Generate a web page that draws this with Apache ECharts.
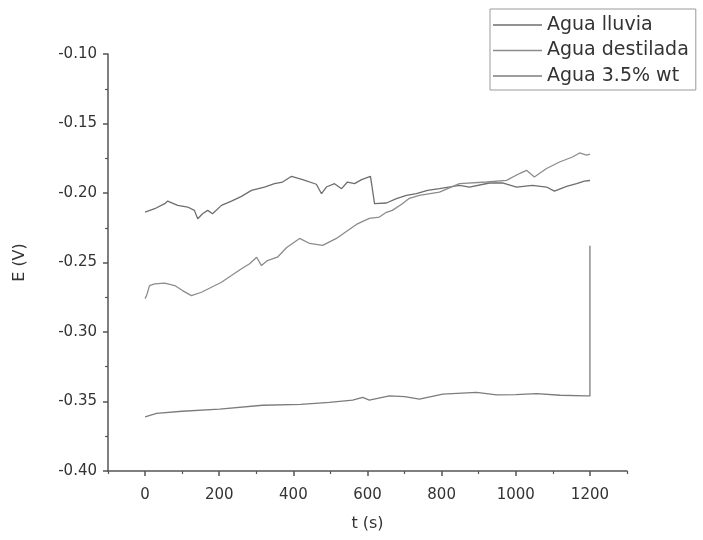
<!DOCTYPE html>
<html>
<head>
<meta charset="utf-8">
<script src="https://cdn.jsdelivr.net/npm/echarts@6/dist/echarts.min.js"></script>
<style>
  html, body { margin: 0; padding: 0; background: #fff; }
  #chart { width: 703px; height: 540px; }
</style>
</head>
<body>
<div id="chart"></div>
<script>
// Potential vs time for three water types
const seriesNames = ['Agua lluvia', 'Agua destilada', 'Agua 3.5% wt'];

const tLluvia = [0, 26, 53, 61, 88, 115, 133, 142, 155, 169, 182, 206, 233, 260, 287, 322, 349, 371, 395, 425, 462, 476, 489, 511, 530, 546, 565, 584, 608, 619, 651, 678, 705, 732, 762, 794, 848, 875, 929, 964, 1002, 1045, 1083, 1104, 1137, 1164, 1185, 1200];
const eLluvia = [-0.2137, -0.2113, -0.2077, -0.2058, -0.2089, -0.2101, -0.2125, -0.2185, -0.2149, -0.2125, -0.2149, -0.2089, -0.2058, -0.2024, -0.1981, -0.1957, -0.1933, -0.1921, -0.1880, -0.1904, -0.1937, -0.2005, -0.1957, -0.1933, -0.1969, -0.1921, -0.1933, -0.1904, -0.1880, -0.2077, -0.2072, -0.2041, -0.2017, -0.2005, -0.1981, -0.1969, -0.1945, -0.1957, -0.1928, -0.1928, -0.1957, -0.1945, -0.1957, -0.1986, -0.1952, -0.1933, -0.1914, -0.1910];

const tDestilada = [0, 4, 12, 26, 53, 80, 101, 125, 152, 179, 206, 233, 260, 282, 301, 314, 330, 357, 382, 417, 444, 479, 516, 570, 605, 632, 651, 667, 694, 713, 740, 794, 848, 921, 975, 1010, 1029, 1050, 1083, 1118, 1153, 1172, 1191, 1200];
const eDestilada = [-0.2760, -0.2738, -0.2666, -0.2654, -0.2649, -0.2666, -0.2702, -0.2738, -0.2714, -0.2678, -0.2642, -0.2594, -0.2545, -0.2509, -0.2462, -0.2522, -0.2486, -0.2462, -0.2392, -0.2327, -0.2363, -0.2377, -0.2327, -0.2226, -0.2183, -0.2173, -0.2139, -0.2125, -0.2077, -0.2038, -0.2017, -0.1994, -0.1933, -0.1921, -0.1909, -0.1860, -0.1837, -0.1885, -0.1824, -0.1777, -0.1741, -0.1712, -0.1728, -0.1720];

const tSalina = [0, 31, 100, 201, 317, 420, 497, 560, 587, 605, 659, 700, 740, 803, 894, 948, 1000, 1056, 1120, 1190, 1200, 1200];
const eSalina = [-0.3610, -0.3585, -0.3570, -0.3555, -0.3527, -0.3520, -0.3507, -0.3490, -0.3471, -0.3490, -0.3459, -0.3465, -0.3483, -0.3447, -0.3435, -0.3452, -0.3450, -0.3443, -0.3455, -0.3459, -0.3460, -0.2380];

const xLabelValues = [0, 200, 400, 600, 800, 1000, 1200];
const xMinorValues = [-100, 100, 300, 500, 700, 900, 1100, 1300];

const lineColors = ['#6e6e6e', '#8c8c8c', '#7c7c7c'];

function zip(ts, es) { return ts.map((t, i) => [t, es[i]]); }

const font = 'DejaVu Sans';
const axisColor = '#555';

const chart = echarts.init(document.getElementById('chart'), null, { renderer: 'canvas' });

const baseX = {
  type: 'value', min: -100, max: 1300, interval: 100,
  splitLine: { show: false }
};

chart.setOption({
  animation: false,
  backgroundColor: '#fff',
  grid: { left: 108, right: 76, top: 54, bottom: 69, containLabel: false },
  legend: {
    orient: 'vertical',
    left: 490, top: 9,
    padding: [6, 7, 4, 3],
    borderColor: '#9a9a9a', borderWidth: 1,
    icon: 'rect',
    itemWidth: 49, itemHeight: 1.5, itemGap: 5.5,
    textStyle: { fontFamily: font, fontSize: 19, color: '#333', lineHeight: 20 },
    data: seriesNames
  },
  xAxis: [
    Object.assign({}, baseX, {
      name: 't (s)', nameLocation: 'middle', nameGap: 45,
      nameTextStyle: { fontFamily: font, fontSize: 16, color: '#333' },
      axisLine: { show: true, onZero: false, lineStyle: { color: axisColor, width: 1.5 } },
      axisTick: { show: true, inside: false, length: 5, customValues: xLabelValues, lineStyle: { color: axisColor, width: 1.5 } },
      axisLabel: { show: true, margin: 17, fontFamily: font, fontSize: 15, color: '#333', customValues: xLabelValues, formatter: v => String(v) }
    }),
    Object.assign({}, baseX, {
      position: 'bottom',
      axisLine: { show: false, onZero: false },
      axisTick: { show: true, inside: false, length: 3, customValues: xMinorValues, lineStyle: { color: axisColor, width: 1.2 } },
      axisLabel: { show: false }
    })
  ],
  yAxis: {
    type: 'value', min: -0.40, max: -0.10, interval: 0.05,
    name: 'E (V)', nameLocation: 'middle', nameGap: 80, nameRotate: 90,
    nameTextStyle: { fontFamily: font, fontSize: 16, color: '#333' },
    axisLine: { show: true, onZero: false, lineStyle: { color: axisColor, width: 1.5 } },
    axisTick: { show: true, inside: false, length: 5, lineStyle: { color: axisColor, width: 1.5 } },
    minorTick: { show: true, splitNumber: 2, length: 3, lineStyle: { color: axisColor, width: 1.2 } },
    axisLabel: { margin: 11, fontFamily: font, fontSize: 15, color: '#333', formatter: v => v.toFixed(2) },
    splitLine: { show: false }
  },
  series: [
    { name: seriesNames[0], type: 'line', data: zip(tLluvia, eLluvia), symbol: 'none', lineStyle: { color: lineColors[0], width: 1.3 }, itemStyle: { color: lineColors[0] } },
    { name: seriesNames[1], type: 'line', data: zip(tDestilada, eDestilada), symbol: 'none', lineStyle: { color: lineColors[1], width: 1.3 }, itemStyle: { color: lineColors[1] } },
    { name: seriesNames[2], type: 'line', data: zip(tSalina, eSalina), symbol: 'none', lineStyle: { color: lineColors[2], width: 1.3 }, itemStyle: { color: lineColors[2] } }
  ]
});
</script>
</body>
</html>
